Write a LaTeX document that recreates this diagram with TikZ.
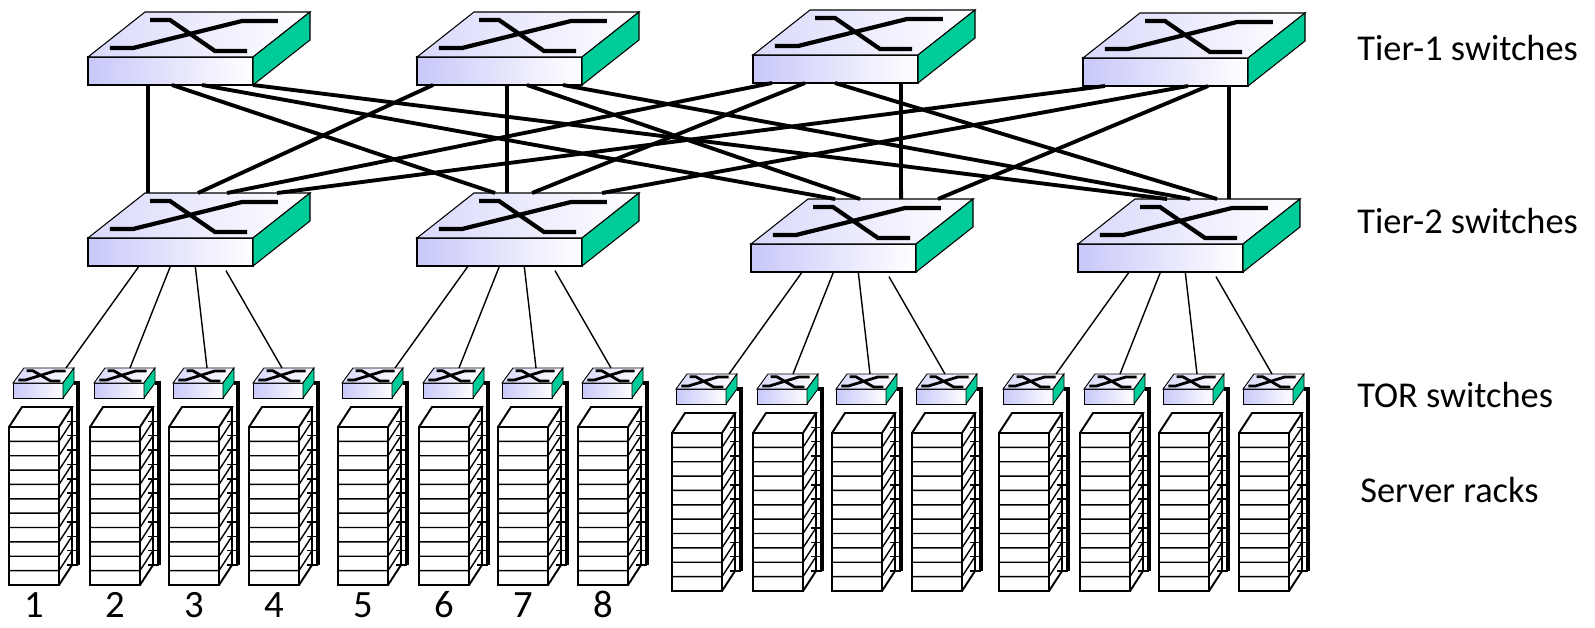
\documentclass[tikz,border=0pt]{standalone}
\usepackage{fontspec}
\setmainfont{Carlito}
\usetikzlibrary{calc}
\definecolor{lav}{RGB}{200,200,250}
\definecolor{swgreen}{RGB}{0,204,153}
\tikzset{
  sw big/.style={x={(33mm,0)},y={(0,5.6mm)},z={(11.4mm,9mm)},
    sw line/.style={line width=0.6pt},sym/.style={line width=2.4pt}},
  sw tor/.style={x={(10mm,0)},y={(0,3mm)},z={(2.2mm,3mm)},
    sw line/.style={line width=0.5pt},sym/.style={line width=1.6pt}},
  mesh/.style={line width=2.2pt},
  link/.style={line width=0.8pt},
  cable/.style={line width=2.2pt},
  rack/.style={line width=1.1pt},
  slot/.style={line width=0.8pt},
  lbl/.style={anchor=base west,inner sep=0pt,font=\fontsize{20.7}{24}\selectfont},
  num/.style={anchor=base,inner sep=0pt,font=\fontsize{22}{26}\selectfont},
}
% switch: style, name, front bottom left corner
\newcommand{\netswitch}[3]{%
  \begin{scope}[shift={(#3)},#1]
    \draw[sw line,left color=lav,right color=white] (0,0,0) rectangle (1,1,0);
    \draw[sw line,left color=lav!70,right color=white] (0,1,0) -- (1,1,0) -- (1,1,1) -- (0,1,1) -- cycle;
    \draw[sw line,fill=swgreen] (1,0,0) -- (1,1,0) -- (1,1,1) -- (1,0,1) -- cycle;
    \draw[sym] (0.092,1,0.822) -- (0.213,1,0.822) -- (0.724,1,0.133) -- (0.918,1,0.133);
    \draw[sym] (0.064,1,0.2) -- (0.204,1,0.2) -- (0.657,1,0.8) -- (0.875,1,0.8);
    \coordinate (#2-sw) at (0,0,0);
    \coordinate (#2-se) at (1,0,0);
    \coordinate (#2-nw) at (0,1,1);
    \coordinate (#2-ne) at (1,1,1);
    \coordinate (#2-e) at (1,0,1);
  \end{scope}}
% rack with its TOR switch: number, front top left corner of the rack
\newcommand{\torrack}[2]{%
  \begin{scope}[shift={(#2)}]
    \draw[rack] (0,0) rectangle (50,158);
    \draw[rack] (0,0) -- (13,-20) -- (63,-20) -- (50,0);
    \draw[rack] (63,-20) -- (63,138) -- (50,158);
    \foreach \k in {1,...,10}
      \draw[slot] (0,\k*14.36) -- (50,\k*14.36) -- (63,\k*14.36-20);
    \foreach \k in {1,...,11}
      \draw[slot] (58,\k*14.36-20) -- (69,\k*14.36-20);
    \coordinate (rack#1-cab) at (69,138);
    \netswitch{sw tor}{tor#1}{4,-29}
  \end{scope}
  \draw[cable] (tor#1-e) -| (rack#1-cab);}
\begin{document}
\begin{tikzpicture}[x=0.2mm,y=-0.2mm]
  \useasboundingbox (0,0) rectangle (1595,627);
  % tier-1
  \netswitch{sw big}{t1a}{88,85}
  \netswitch{sw big}{t1b}{417,85}
  \netswitch{sw big}{t1c}{753,83}
  \netswitch{sw big}{t1d}{1083,86}
  % tier-2
  \netswitch{sw big}{t2a}{88,266}
  \netswitch{sw big}{t2b}{417,266}
  \netswitch{sw big}{t2c}{751,272}
  \netswitch{sw big}{t2d}{1078,272}
  % racks
  \torrack{1}{9,427}
  \torrack{2}{90,427}
  \torrack{3}{169,427}
  \torrack{4}{249,427}
  \torrack{5}{338,427}
  \torrack{6}{419,427}
  \torrack{7}{498,427}
  \torrack{8}{578,427}
  \torrack{9}{672,433}
  \torrack{10}{753,433}
  \torrack{11}{832,433}
  \torrack{12}{912,433}
  \torrack{13}{999,433}
  \torrack{14}{1080,433}
  \torrack{15}{1159,433}
  \torrack{16}{1239,433}
  \begin{scope}[mesh]
    \draw ($(t1a-sw)!0.364!(t1a-se)$) -- ($(t2a-nw)!0.018!(t2a-ne)$);
    \draw ($(t1a-sw)!0.509!(t1a-se)$) -- ($(t2b-nw)!0.127!(t2b-ne)$);
    \draw ($(t1a-sw)!0.691!(t1a-se)$) -- ($(t2c-nw)!0.164!(t2c-ne)$);
    \draw ($(t1a-sw)!1.000!(t1a-se)$) -- ($(t2d-nw)!0.194!(t2d-ne)$);
    \draw ($(t1b-sw)!0.097!(t1b-se)$) -- ($(t2a-nw)!0.321!(t2a-ne)$);
    \draw ($(t1b-sw)!0.545!(t1b-se)$) -- ($(t2b-nw)!0.200!(t2b-ne)$);
    \draw ($(t1b-sw)!0.667!(t1b-se)$) -- ($(t2c-nw)!0.315!(t2c-ne)$);
    \draw ($(t1b-sw)!0.885!(t1b-se)$) -- ($(t2d-nw)!0.333!(t2d-ne)$);
    \draw ($(t1c-sw)!0.115!(t1c-se)$) -- ($(t2a-nw)!0.497!(t2a-ne)$);
    \draw ($(t1c-sw)!0.315!(t1c-se)$) -- ($(t2b-nw)!0.352!(t2b-ne)$);
    \draw ($(t1c-sw)!0.897!(t1c-se)$) -- ($(t2c-nw)!0.564!(t2c-ne)$);
    \draw ($(t1c-sw)!0.497!(t1c-se)$) -- ($(t2d-nw)!0.497!(t2d-ne)$);
    \draw ($(t1d-sw)!0.133!(t1d-se)$) -- ($(t2a-nw)!0.800!(t2a-ne)$);
    \draw ($(t1d-sw)!0.636!(t1d-se)$) -- ($(t2b-nw)!0.776!(t2b-ne)$);
    \draw ($(t1d-sw)!0.758!(t1d-se)$) -- ($(t2c-nw)!0.788!(t2c-ne)$);
    \draw ($(t1d-sw)!0.885!(t1d-se)$) -- ($(t2d-nw)!0.570!(t2d-ne)$);
  \end{scope}
  \begin{scope}[link]
    \draw ($(t2a-sw)!0.31!(t2a-se)$) -- ($(tor1-nw)!0.84!(tor1-ne)$);
    \draw ($(t2a-sw)!0.50!(t2a-se)$) -- ($(tor2-nw)!0.50!(tor2-ne)$);
    \draw ($(t2a-sw)!0.65!(t2a-se)$) -- ($(tor3-nw)!0.46!(tor3-ne)$);
    \draw[shorten <=3pt] ($(t2a-sw)!0.82!(t2a-se)$) -- ($(tor4-nw)!0.36!(tor4-ne)$);
    \draw ($(t2b-sw)!0.31!(t2b-se)$) -- ($(tor5-nw)!0.84!(tor5-ne)$);
    \draw ($(t2b-sw)!0.50!(t2b-se)$) -- ($(tor6-nw)!0.50!(tor6-ne)$);
    \draw ($(t2b-sw)!0.65!(t2b-se)$) -- ($(tor7-nw)!0.46!(tor7-ne)$);
    \draw[shorten <=3pt] ($(t2b-sw)!0.82!(t2b-se)$) -- ($(tor8-nw)!0.36!(tor8-ne)$);
    \draw ($(t2c-sw)!0.31!(t2c-se)$) -- ($(tor9-nw)!0.84!(tor9-ne)$);
    \draw ($(t2c-sw)!0.50!(t2c-se)$) -- ($(tor10-nw)!0.50!(tor10-ne)$);
    \draw ($(t2c-sw)!0.65!(t2c-se)$) -- ($(tor11-nw)!0.46!(tor11-ne)$);
    \draw[shorten <=3pt] ($(t2c-sw)!0.82!(t2c-se)$) -- ($(tor12-nw)!0.36!(tor12-ne)$);
    \draw ($(t2d-sw)!0.31!(t2d-se)$) -- ($(tor13-nw)!0.84!(tor13-ne)$);
    \draw ($(t2d-sw)!0.50!(t2d-se)$) -- ($(tor14-nw)!0.50!(tor14-ne)$);
    \draw ($(t2d-sw)!0.65!(t2d-se)$) -- ($(tor15-nw)!0.46!(tor15-ne)$);
    \draw[shorten <=3pt] ($(t2d-sw)!0.82!(t2d-se)$) -- ($(tor16-nw)!0.36!(tor16-ne)$);
  \end{scope}
  % labels
  \node[lbl] (tier1) at (1357,60) {Tier-1 switches};
  \node[lbl] (tier2) at (1357,233) {Tier-2 switches};
  \node[lbl] (tor) at (1357,407) {TOR switches};
  \node[lbl] (servers) at (1360,502) {Server racks};
  \node[num] (n1) at (34,617) {1};
  \node[num] (n2) at (115,617) {2};
  \node[num] (n3) at (194,617) {3};
  \node[num] (n4) at (274,617) {4};
  \node[num] (n5) at (363,617) {5};
  \node[num] (n6) at (444,617) {6};
  \node[num] (n7) at (523,617) {7};
  \node[num] (n8) at (603,617) {8};
\end{tikzpicture}
\end{document}
